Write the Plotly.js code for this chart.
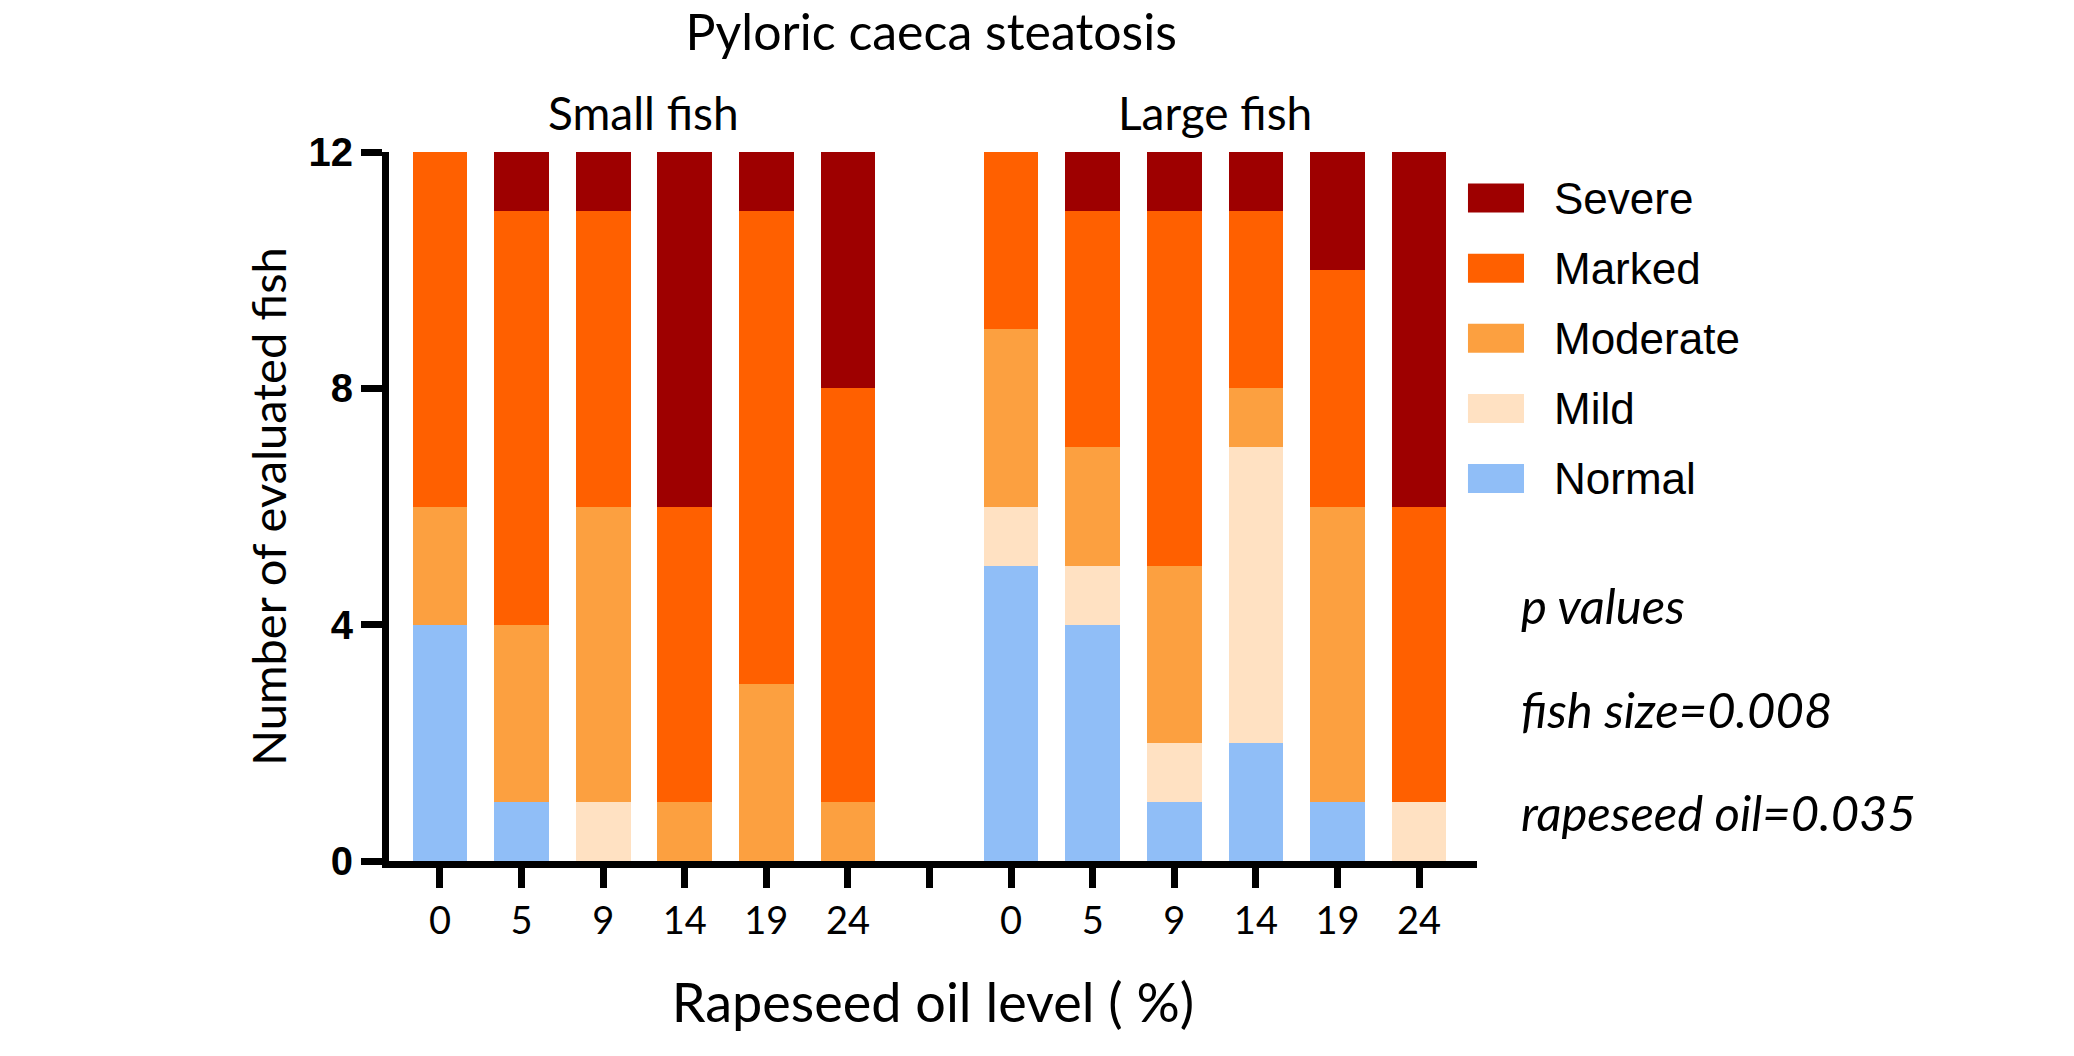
<!DOCTYPE html>
<html>
<head>
<meta charset="utf-8">
<script src="https://cdn.plot.ly/plotly-3.0.1.min.js"></script>
<style>html,body{margin:0;padding:0;background:#fff;}#chart{width:2074px;height:1056px;}</style>
</head>
<body>
<div id="chart"></div>
<script>
// ---- Data ----
const doses = ['0', '5', '9', '14', '19', '24'];
const groups = ['Small fish', 'Large fish'];
const severities = ['Normal', 'Mild', 'Moderate', 'Marked', 'Severe'];
const colors = ['#90BEF7', '#FFE1C2', '#FCA040', '#FF6000', '#9E0000'];

// counts per dose (small fish)
const smallNormal   = [4, 1, 0, 0, 0, 0];
const smallMild     = [0, 0, 1, 0, 0, 0];
const smallModerate = [2, 3, 5, 1, 3, 1];
const smallMarked   = [6, 7, 5, 5, 8, 7];
const smallSevere   = [0, 1, 1, 6, 1, 4];

// counts per dose (large fish)
const largeNormal   = [5, 4, 1, 2, 1, 0];
const largeMild     = [1, 1, 1, 5, 0, 1];
const largeModerate = [3, 2, 3, 1, 5, 0];
const largeMarked   = [3, 4, 6, 3, 4, 5];
const largeSevere   = [0, 1, 1, 1, 2, 6];

const pLines = ['p values', 'fish size=0.008', 'rapeseed oil=0.035'];
const yTicks = [0, 4, 8, 12];

// ---- Build ----
const smallSeries = [smallNormal, smallMild, smallModerate, smallMarked, smallSevere];
const largeSeries = [largeNormal, largeMild, largeModerate, largeMarked, largeSevere];
const nd = doses.length;
const xSmall = doses.map((d, i) => i);
const xLarge = doses.map((d, i) => i + nd + 1);
const xAll = xSmall.concat(xLarge);
const tickvals = [];
const ticktext = [];
for (let i = 0; i < 2 * nd + 1; i++) {
  tickvals.push(i);
  if (i < nd) ticktext.push(doses[i]);
  else if (i === nd) ticktext.push('');
  else ticktext.push(doses[i - nd - 1]);
}

const traces = severities.map((s, k) => ({
  type: 'bar',
  name: s,
  x: xAll,
  y: smallSeries[k].concat(largeSeries[k]),
  marker: {color: colors[k], line: {width: 0}},
  showlegend: false,
  hoverinfo: 'x+y+name'
}));

const shapes = [];
const annotations = [];
// custom legend (top: Severe)
const legendTop = 0.935, legendStep = 0.0989;
for (let j = 0; j < severities.length; j++) {
  const k = severities.length - 1 - j;
  const yc = legendTop - j * legendStep;
  shapes.push({type: 'rect', xref: 'paper', yref: 'paper',
    x0: 0.9917, x1: 1.0432, y0: yc - 0.0205, y1: yc + 0.0205,
    fillcolor: colors[k], line: {width: 0}});
  annotations.push({xref: 'paper', yref: 'paper', x: 1.069, y: yc,
    xanchor: 'left', yanchor: 'middle', showarrow: false, text: severities[k],
    font: {family: 'Liberation Sans, Arial, sans-serif', size: 44, color: '#000'}});
}
// p values
const pY = [0.361, 0.214, 0.069];
pLines.forEach((t, i) => {
  annotations.push({xref: 'paper', yref: 'paper', x: 1.039, y: pY[i],
    xanchor: 'left', yanchor: 'middle', showarrow: false,
    text: '<i>' + t + '</i>',
    font: {family: 'Lato, sans-serif', size: 49, color: '#000'}});
});
// group labels
[xSmall, xLarge].forEach((xs, g) => {
  annotations.push({xref: 'x', yref: 'paper', x: (xs[0] + xs[xs.length - 1]) / 2, y: 1.056,
    xanchor: 'center', yanchor: 'middle', showarrow: false, text: groups[g],
    font: {family: 'Lato, sans-serif', size: 46, color: '#000'}});
});

const layout = {
  width: 2074, height: 1056,
  paper_bgcolor: '#fff', plot_bgcolor: '#fff',
  margin: {l: 389, r: 597, t: 152, b: 195},
  barmode: 'stack',
  bargap: 0.33,
  title: {text: 'Pyloric caeca steatosis', x: 0.449, xanchor: 'center', y: 0.969, yanchor: 'middle',
    font: {family: 'Lato, sans-serif', size: 50, color: '#000'}},
  xaxis: {
    range: [-0.625, 12.71], tickvals: tickvals, ticktext: ticktext,
    showgrid: false, zeroline: false, showline: true, linecolor: '#000', linewidth: 7,
    ticks: 'outside', ticklen: 20, tickwidth: 7, tickcolor: '#000',
    tickfont: {family: 'Lato, sans-serif', size: 38, color: '#000'},
    title: {text: 'Rapeseed oil level ( %)', standoff: 46,
      font: {family: 'Lato, sans-serif', size: 54, color: '#000'}}
  },
  yaxis: {
    range: [0, 12], tickvals: yTicks, ticktext: yTicks.map(String),
    showgrid: false, zeroline: false, showline: true, linecolor: '#000', linewidth: 7,
    ticks: 'outside', ticklen: 21, tickwidth: 7, tickcolor: '#000',
    tickfont: {family: 'Liberation Sans, Arial, sans-serif', size: 40, color: '#000', weight: 'bold'},
    title: {text: 'Number of evaluated fish', standoff: 10,
      font: {family: 'Lato, sans-serif', size: 47, color: '#000'}}
  },
  shapes: shapes,
  annotations: annotations,
  showlegend: false
};

Plotly.newPlot('chart', traces, layout, {displayModeBar: false, staticPlot: true});
</script>
</body>
</html>
